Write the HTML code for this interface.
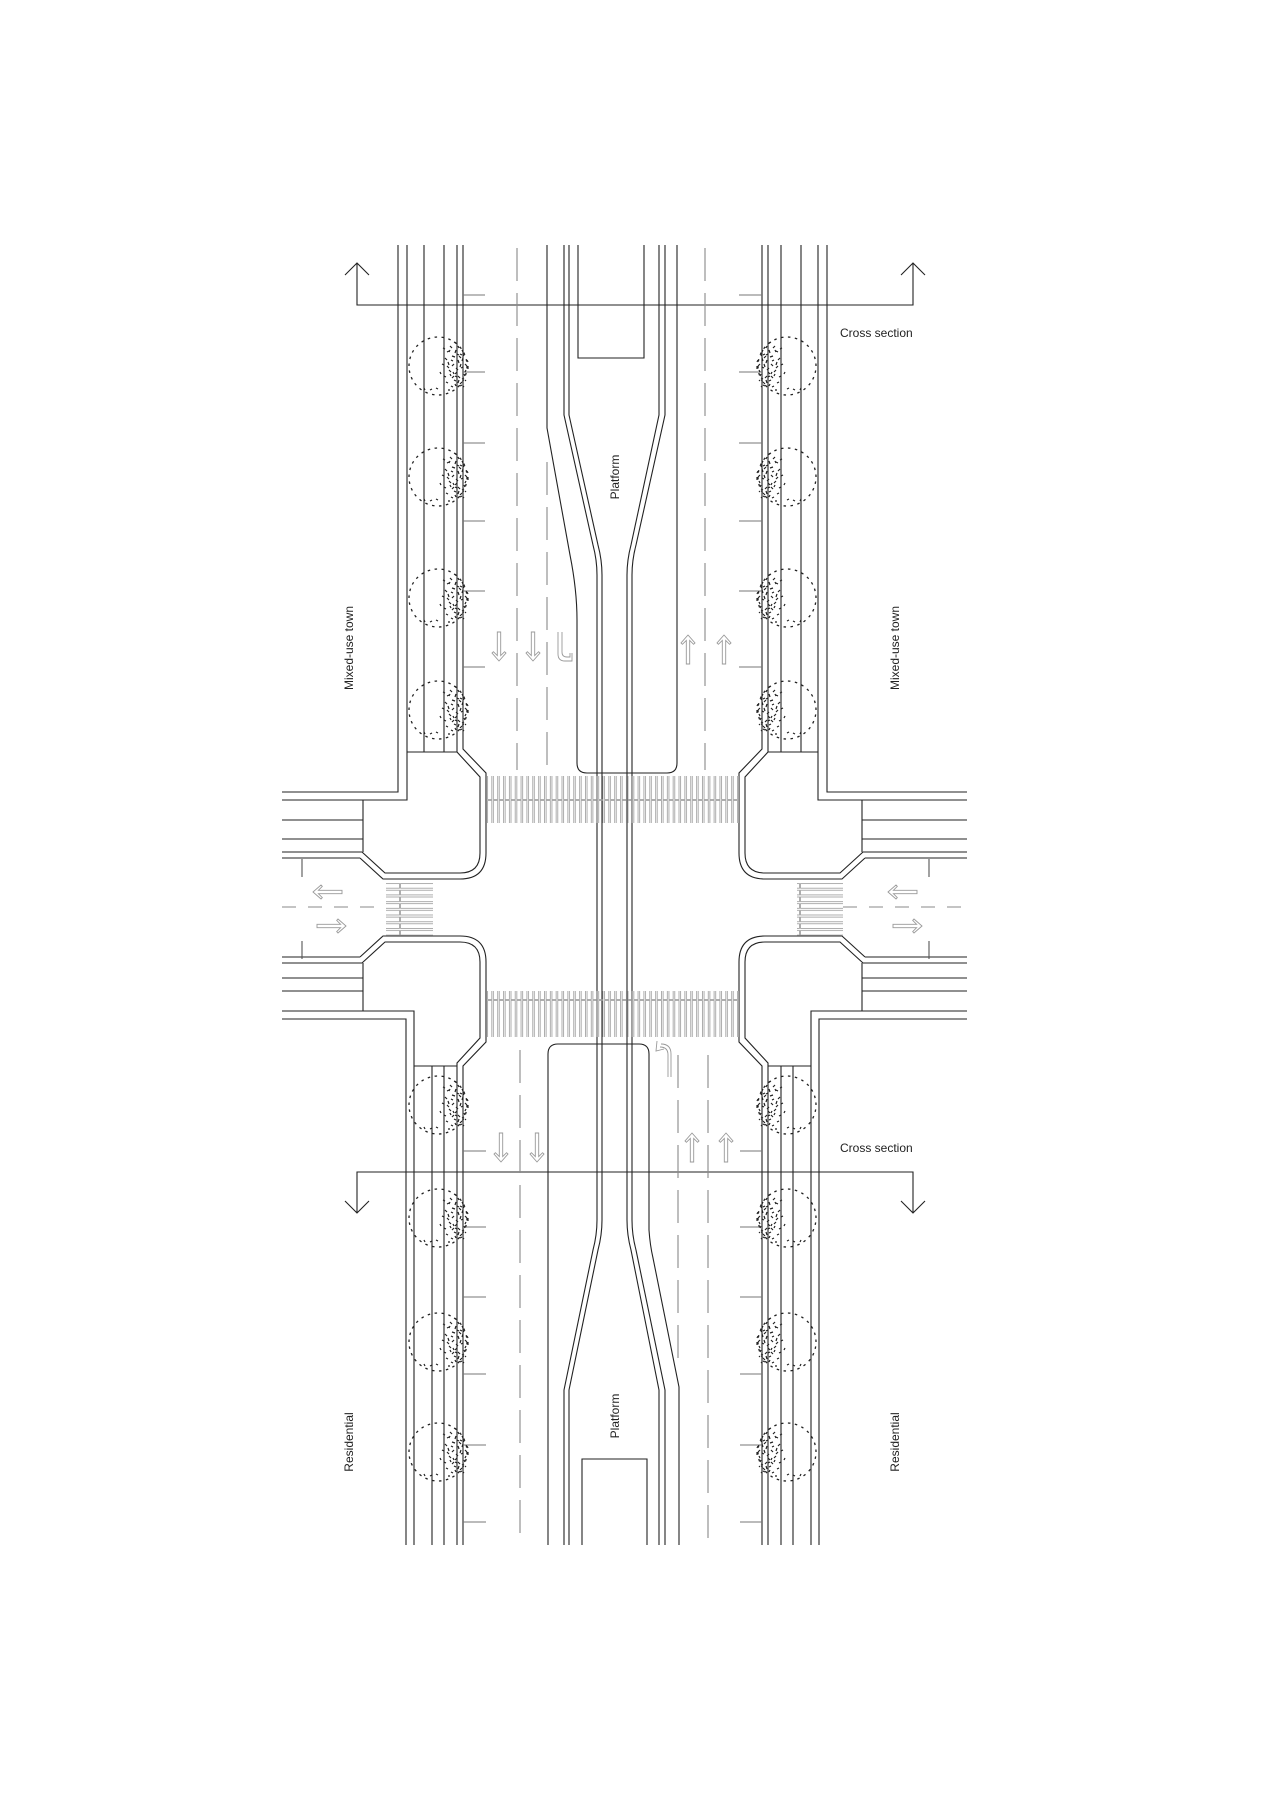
<!DOCTYPE html>
<html><head><meta charset="utf-8"><style>
html,body{margin:0;padding:0;background:#fff;}
svg{display:block;}
text{font-family:"Liberation Sans",Arial,sans-serif;fill:#222;}
</style></head><body>
<svg width="1273" height="1800" viewBox="0 0 1273 1800" xmlns="http://www.w3.org/2000/svg">
<defs>
  <pattern id="vstripe" patternUnits="userSpaceOnUse" x="487" y="0" width="5.85" height="100">
    <rect x="0.6" y="0.5" width="4.2" height="99" fill="none" stroke="#9a9a9a" stroke-width="0.8"/>
  </pattern>
  <pattern id="hstripe" patternUnits="userSpaceOnUse" x="0" y="883" width="100" height="6.7">
    <rect x="0.5" y="0.6" width="99" height="4.6" fill="none" stroke="#9a9a9a" stroke-width="0.8"/>
  </pattern>
  <g id="tree">
    <circle cx="0" cy="0" r="29" fill="none" stroke="#222" stroke-width="1.3" stroke-dasharray="2.5 4.5"/>
    <g stroke="#222" stroke-width="1.2" fill="none">
      <path d="M12,-20 l2,2 M18,-16 l-1,3 M22,-12 l2,1 M25,-8 l-1,3 M14,-10 l3,1 M20,-6 l1,3 M27,-2 l2,2 M16,-2 l-2,2 M23,2 l2,-1 M11,4 l2,2 M19,6 l-2,2 M26,8 l1,2 M14,12 l2,-2 M21,14 l-1,3 M8,16 l2,1 M17,18 l1,2 M24,16 l-2,2 M10,-4 l1,3 M6,10 l2,1 M28,4 l-1,2 M13,20 l2,1 M20,-20 l1,2 M9,-14 l2,-1 M24,-16 l1,2 M29,-6 l1,2 M17,10 l2,1 M22,20 l2,-1 M7,-8 l2,2 M15,6 l1,2 M26,12 l-2,1 M12,-16 l-1,2 M19,-12 l2,1 M23,-2 l-1,3 M18,2 l2,2 M25,20 l1,1
      M4,-2 l2,1 M2,6 l1,2 M5,-18 l2,1 M-2,22 l2,1 M-8,24 l2,-1 M-14,22 l1,2 M30,0 l0,3 M16,-24 l2,1 M10,24 l2,0 M21,-10 l2,2 M13,-6 l2,1 M25,-12 l1,2 M20,10 l2,2 M12,8 l1,2 M27,14 l1,1 M9,0 l2,2 M16,14 l2,1"/>
    </g>
  </g>
  <path id="arrowUp" d="M0,0 L7,8 L5.6,9.3 L1.7,5.4 L1.7,29 L-1.7,29 L-1.7,5.4 L-5.6,9.3 L-7,8 Z" fill="none" stroke="#999" stroke-width="0.9"/>
  <clipPath id="clipMain"><rect x="0" y="245" width="1273" height="1300"/></clipPath>
  <g id="corner" fill="none" stroke="#222" stroke-width="1.1">
    <path d="M457,245 V752 L480,777 V853 Q480,873 460,873 H385 L362,852"/>
    <path d="M463,245 V749 L486,773 V853 Q486,879 460,879 H383 L360,858"/>
  </g>
</defs>

<g fill="none" stroke="#222" stroke-width="1.1">
  <g clip-path="url(#clipMain)">
    <use href="#corner"/>
    <use href="#corner" transform="translate(1225,0) scale(-1,1)"/>
    <use href="#corner" transform="translate(0,1815) scale(1,-1)"/>
    <use href="#corner" transform="translate(1225,1815) scale(-1,-1)"/>
  </g>
  <path d="M282,852 H362 M282,858 H360 M863,852 H967 M865,858 H967"/>
  <path d="M282,963 H362 M282,957 H360 M863,963 H967 M865,957 H967"/>

  <path d="M398,245 V792 H282 M407,245 V800 H282"/>
  <path d="M424,245 V752 M444,245 V752 M407,752 H457"/>
  <path d="M363,800 V852 M282,820 H363 M282,839 H363"/>
  <path d="M827,245 V792 H967 M818,245 V800 H967"/>
  <path d="M801,245 V752 M781,245 V752 M768,752 H818"/>
  <path d="M862,800 V852 M862,820 H967 M862,839 H967"/>
  <path d="M406,1545 V1019 H282 M414,1545 V1011 H282"/>
  <path d="M432,1545 V1066 M444,1545 V1066 M414,1066 H457"/>
  <path d="M363,963 V1011 M282,978 H363 M282,991 H363"/>
  <path d="M819,1545 V1019 H967 M811,1545 V1011 H967"/>
  <path d="M793,1545 V1066 M781,1545 V1066 M768,1066 H811"/>
  <path d="M862,963 V1011 M862,978 H967 M862,991 H967"/>

  <path d="M547,245 V428 L570,555 Q577,590 577,620 V763 Q577,773 587,773 H667 Q677,773 677,763 V245"/>
  <path d="M578,245 V358 H644 V245"/>
  <path d="M564,245 V415 L593,545 Q597,560 597,575 V1220 Q597,1235 593,1250 L564,1390 V1545"/>
  <path d="M569,245 V415 L598,545 Q602,560 602,575 V1220 Q602,1235 598,1250 L569,1390 V1545"/>
  <path d="M659,245 V415 L631,545 Q627,560 627,575 V1220 Q627,1235 631,1250 L659,1390 V1545"/>
  <path d="M665,245 V415 L636,545 Q632,560 632,575 V1220 Q632,1235 636,1250 L665,1390 V1545"/>
  <path d="M548,1545 V1054 Q548,1044 558,1044 H639 Q649,1044 649,1054 V1230 Q650,1245 653,1258 L679,1387 V1545"/>
  <path d="M582,1545 V1459 H647 V1545"/>

  <path d="M357,263 V305 H913 V263 M345,275 L357,263 L369,275 M901,275 L913,263 L925,275"/>
  <path d="M357,1213 V1172 H913 V1213 M345,1201 L357,1213 L369,1201 M901,1201 L913,1213 L925,1201"/>
</g>

<g stroke="#777" stroke-width="1.1">
  <path d="M463,295 H485 M463,372 H485 M463,443 H485 M463,521 H485 M463,591 H485 M463,667 H485"/>
  <path d="M739,295 H762 M739,372 H762 M739,443 H762 M739,521 H762 M739,591 H762 M739,667 H762"/>
  <path d="M463,1151 H486 M463,1227 H486 M463,1297 H486 M463,1374 H486 M463,1445 H486 M463,1522 H486"/>
  <path d="M740,1151 H762 M740,1227 H762 M740,1297 H762 M740,1374 H762 M740,1445 H762 M740,1522 H762"/>
</g>

<g stroke="#888" stroke-width="1.1" stroke-dasharray="33 12" fill="none">
  <path d="M517,248 V770"/>
  <path d="M547,462 V770"/>
  <path d="M705,248 V770"/>
  <path d="M520,1050 V1545"/>
  <path d="M678,1055 V1360"/>
  <path d="M708,1055 V1545"/>
</g>
<g stroke="#888" stroke-width="1.1" stroke-dasharray="14 12" fill="none">
  <path d="M282,907 H386"/>
  <path d="M843,907 H967"/>
</g>
<g stroke="#555" stroke-width="1.1">
  <path d="M302,859 V877 M302,941 V959 M929,859 V877 M929,941 V959"/>
</g>

<rect x="487" y="776" width="252" height="47" fill="url(#vstripe)"/>
<rect x="487" y="991" width="252" height="46" fill="url(#vstripe)"/>
<rect x="386" y="883" width="47" height="53" fill="url(#hstripe)"/>
<rect x="797" y="883" width="46" height="53" fill="url(#hstripe)"/>

<g>
  <use href="#tree" transform="translate(438,366)"/>
  <use href="#tree" transform="translate(438,477)"/>
  <use href="#tree" transform="translate(438,598)"/>
  <use href="#tree" transform="translate(438,710)"/>
  <use href="#tree" transform="translate(787,366) scale(-1,1)"/>
  <use href="#tree" transform="translate(787,477) scale(-1,1)"/>
  <use href="#tree" transform="translate(787,598) scale(-1,1)"/>
  <use href="#tree" transform="translate(787,710) scale(-1,1)"/>
  <use href="#tree" transform="translate(438,1105)"/>
  <use href="#tree" transform="translate(438,1218)"/>
  <use href="#tree" transform="translate(438,1342)"/>
  <use href="#tree" transform="translate(438,1452)"/>
  <use href="#tree" transform="translate(787,1105) scale(-1,1)"/>
  <use href="#tree" transform="translate(787,1218) scale(-1,1)"/>
  <use href="#tree" transform="translate(787,1342) scale(-1,1)"/>
  <use href="#tree" transform="translate(787,1452) scale(-1,1)"/>
</g>

<use href="#arrowUp" transform="translate(499,661) rotate(180)"/>
<use href="#arrowUp" transform="translate(533,661) rotate(180)"/>
<use href="#arrowUp" transform="translate(688,635)"/>
<use href="#arrowUp" transform="translate(724,635)"/>
<use href="#arrowUp" transform="translate(501,1162) rotate(180)"/>
<use href="#arrowUp" transform="translate(537,1162) rotate(180)"/>
<use href="#arrowUp" transform="translate(692,1133)"/>
<use href="#arrowUp" transform="translate(726,1133)"/>
<use href="#arrowUp" transform="translate(313,892) rotate(-90)"/>
<use href="#arrowUp" transform="translate(346,926) rotate(90)"/>
<use href="#arrowUp" transform="translate(888,892) rotate(-90)"/>
<use href="#arrowUp" transform="translate(922,926) rotate(90)"/>
<g fill="none" stroke="#999" stroke-width="0.9">
  <path d="M558,632 V654 Q558,661 565,661 H572 V653 M562,632 V652 Q562,657 567,657 H570 V653"/>
  <path d="M668,1077 V1055 Q668,1047 660,1047 M671,1077 V1054 Q671,1044 661,1044 M657,1041 L656,1051 L664,1049"/>
</g>

<text x="840" y="337" font-size="12">Cross section</text>
<text x="840" y="1152" font-size="12">Cross section</text>
<text transform="translate(619,477) rotate(-90)" font-size="12" text-anchor="middle">Platform</text>
<text transform="translate(619,1416) rotate(-90)" font-size="12" text-anchor="middle">Platform</text>
<text transform="translate(353,648) rotate(-90)" font-size="12" text-anchor="middle">Mixed-use town</text>
<text transform="translate(899,648) rotate(-90)" font-size="12" text-anchor="middle">Mixed-use town</text>
<text transform="translate(353,1442) rotate(-90)" font-size="12" text-anchor="middle">Residential</text>
<text transform="translate(899,1442) rotate(-90)" font-size="12" text-anchor="middle">Residential</text>
</svg>
</body></html>
